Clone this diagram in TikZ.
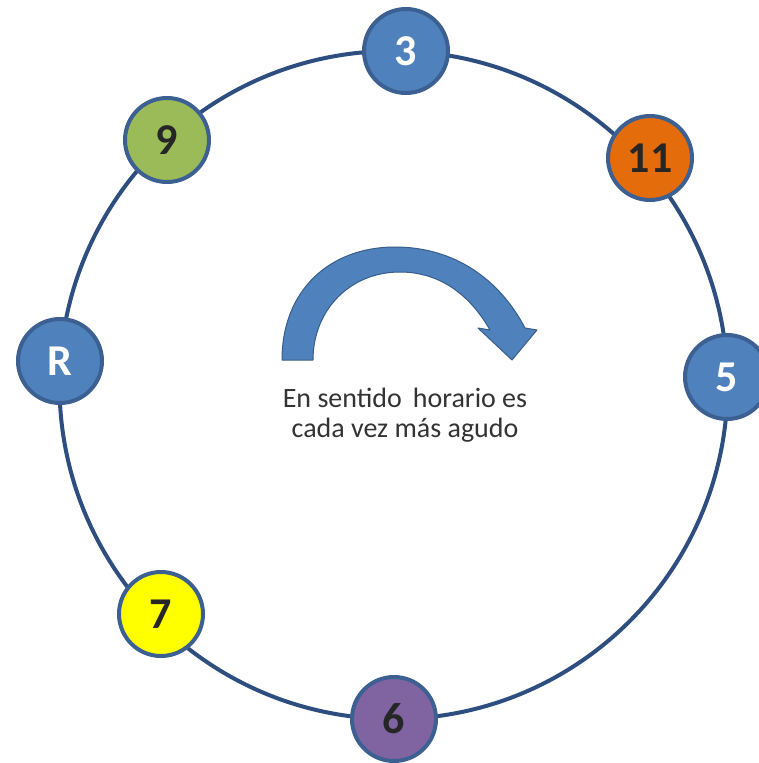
\documentclass[tikz,border=0pt]{standalone}
\usepackage{fontspec}
\setmainfont{Carlito}
\definecolor{ringc}{RGB}{47,78,128}
\definecolor{nodeb}{RGB}{61,96,146}
\definecolor{offblue}{RGB}{79,129,189}
\definecolor{offgreen}{RGB}{155,187,89}
\definecolor{offorange}{RGB}{228,108,10}
\definecolor{offyellow}{RGB}{255,255,0}
\definecolor{offpurple}{RGB}{128,100,162}
\definecolor{arrowb}{RGB}{56,93,138}
\tikzset{
  num/.style={circle, draw=nodeb, line width=4pt, minimum size=84pt, inner sep=0pt,
    font=\fontsize{44}{44}\selectfont\bfseries},
  bluenum/.style={num, fill=offblue, text=white},
  darknum/.style={num, text=black!85}
}
\begin{document}
\begin{tikzpicture}[x=1pt,y=-1pt]
\useasboundingbox (0,0) rectangle (758,763);
\fill[white] (0,0) rectangle (758,763);
\coordinate (ctr) at (393.5,385);
\draw[ringc, line width=4pt] (ctr) circle[radius=334];
\node[bluenum] (n3) at (406,51) {3};
\node[darknum, fill=offgreen] (n9) at (167,140) {9};
\node[darknum, fill=offorange] (n11) at (650,158) {11};
\node[bluenum] (nR) at (60,361) {R};
\node[bluenum] (n5) at (727,377) {5};
\node[darknum, fill=offyellow] (n7) at (161,614) {7};
\node[darknum, fill=offpurple] (n6) at (394,719) {6};
% curved arrow
\filldraw[fill=offblue, draw=arrowb, line width=1pt, line join=round]
  (282,360) .. controls (282,290) and (330,247) .. (395,247)
  .. controls (455,247) and (500,280) .. (525,328)
  -- (537,330) -- (512,360) -- (478,328) -- (490,330)
  .. controls (470,295) and (440,272) .. (400,272)
  .. controls (350,272) and (313,310) .. (313,360) -- cycle;
\node[align=center, font=\fontsize{28}{30}\selectfont, text=black!80, anchor=base] (txt) at (405,437)
  {En sentido\, horario es\\ cada vez más agudo};
\end{tikzpicture}
\end{document}
